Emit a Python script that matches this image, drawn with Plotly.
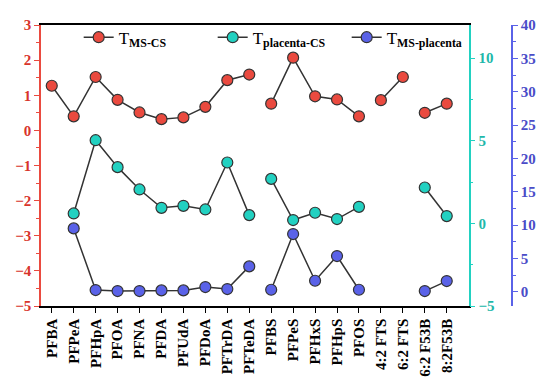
import plotly.graph_objects as go

categories = ["PFBA", "PFPeA", "PFHpA", "PFOA", "PFNA", "PFDA", "PFUdA", "PFDoA",
              "PFTrDA", "PFTeDA", "PFBS", "PFPeS", "PFHxS", "PFHpS", "PFOS",
              "4:2 FTS", "6:2 FTS", "6:2 F53B", "8:2F53B"]

t_ms_cs = [1.27, 0.40, 1.52, 0.87, 0.51, 0.32, 0.37, 0.67, 1.43, 1.59,
           0.76, 2.07, 0.97, 0.88, 0.40, 0.86, 1.52, 0.50, 0.76]
t_placenta_cs = [None, 0.60, 5.03, 3.40, 2.05, 0.94, 1.06, 0.84, 3.68, 0.50,
                 2.69, 0.20, 0.64, 0.26, 1.00, None, None, 2.17, 0.44]
t_ms_placenta = [None, 9.5, 0.25, 0.1, 0.1, 0.2, 0.2, 0.7, 0.4, 3.8,
                 0.3, 8.65, 1.65, 5.35, 0.3, None, None, 0.1, 1.6]

# index where a new compound group starts (lines are broken between groups)
group_starts = [10, 15, 17]

RED = "#ea4a3f"
CYAN = "#22d1c1"
BLUE = "#5a62e8"
SERIF = "Liberation Serif"


def segmented(values):
    xs, ys = [], []
    for i, v in enumerate(values):
        if i in group_starts:
            xs.append(None)
            ys.append(None)
        xs.append(i)
        ys.append(v)
    return xs, ys


fig = go.Figure()
series = [
    (t_ms_cs, RED, "y", "T<sub><b>MS-CS</b></sub>"),
    (t_placenta_cs, CYAN, "y2", "T<sub><b>placenta-CS</b></sub>"),
    (t_ms_placenta, BLUE, "y3", "T<sub><b>MS-placenta</b></sub>"),
]
for vals, col, yax, name in series:
    xs, ys = segmented(vals)
    fig.add_trace(go.Scatter(
        x=xs, y=ys, yaxis=yax, name=name, mode="lines+markers",
        connectgaps=False,
        line=dict(color="#333333", width=1.5),
        marker=dict(color=col, size=11, line=dict(color="#333333", width=1.2)),
    ))

tf = dict(family=SERIF, size=15, weight="bold")

# the page body adds an 8px offset, so the figure is drawn 8px smaller
fig.update_layout(
    width=542, height=376,
    margin=dict(l=33, r=38, t=17, b=78),
    paper_bgcolor="white", plot_bgcolor="white",
    showlegend=True,
    legend=dict(orientation="h", x=0.08, xanchor="left", y=0.955, yanchor="middle",
                bgcolor="rgba(0,0,0,0)", entrywidth=89, entrywidthmode="pixels",
                font=dict(family=SERIF, size=17, color="black")),
    xaxis=dict(domain=[0, 0.908], range=[-0.49, 19.0], automargin=False,
               tickmode="array", tickvals=list(range(len(categories))), ticktext=categories,
               tickangle=-90, ticks="outside", ticklen=5, tickcolor="black",
               showline=True, linecolor="black", linewidth=1.5, mirror=True,
               showgrid=False, zeroline=False,
               tickfont=dict(family=SERIF, size=15, weight="bold", color="black")),
    yaxis=dict(range=[-5, 3], dtick=1, ticks="outside", ticklen=5, tickcolor=RED,
               automargin=False,
               showline=True, linecolor=RED, linewidth=1.5,
               showgrid=False, zeroline=False,
               minor=dict(dtick=0.5, ticks="outside", ticklen=3, tickcolor=RED),
               tickfont=dict(tf, color="#d8342b")),
    yaxis2=dict(range=[-5, 12], tickvals=[-5, 0, 5, 10], ticks="outside", ticklen=5,
                automargin=False,
                tickcolor=CYAN, overlaying="y", anchor="x", side="right",
                showline=True, linecolor=CYAN, linewidth=1.5,
                showgrid=False, zeroline=False,
                minor=dict(tickvals=[-2.5, 2.5, 7.5], ticks="outside", ticklen=3, tickcolor=CYAN),
                tickfont=dict(tf, color="#1fb8aa")),
    yaxis3=dict(range=[-2.14, 40], dtick=5, ticks="outside", ticklen=5,
                automargin=False,
                tickcolor=BLUE, overlaying="y", anchor="free", position=1.0, side="right",
                showline=True, linecolor=BLUE, linewidth=1.5,
                showgrid=False, zeroline=False,
                minor=dict(dtick=2.5, ticks="outside", ticklen=3, tickcolor=BLUE),
                tickfont=dict(tf, color="#4a4cc8")),
)

fig.write_html("out.html")
